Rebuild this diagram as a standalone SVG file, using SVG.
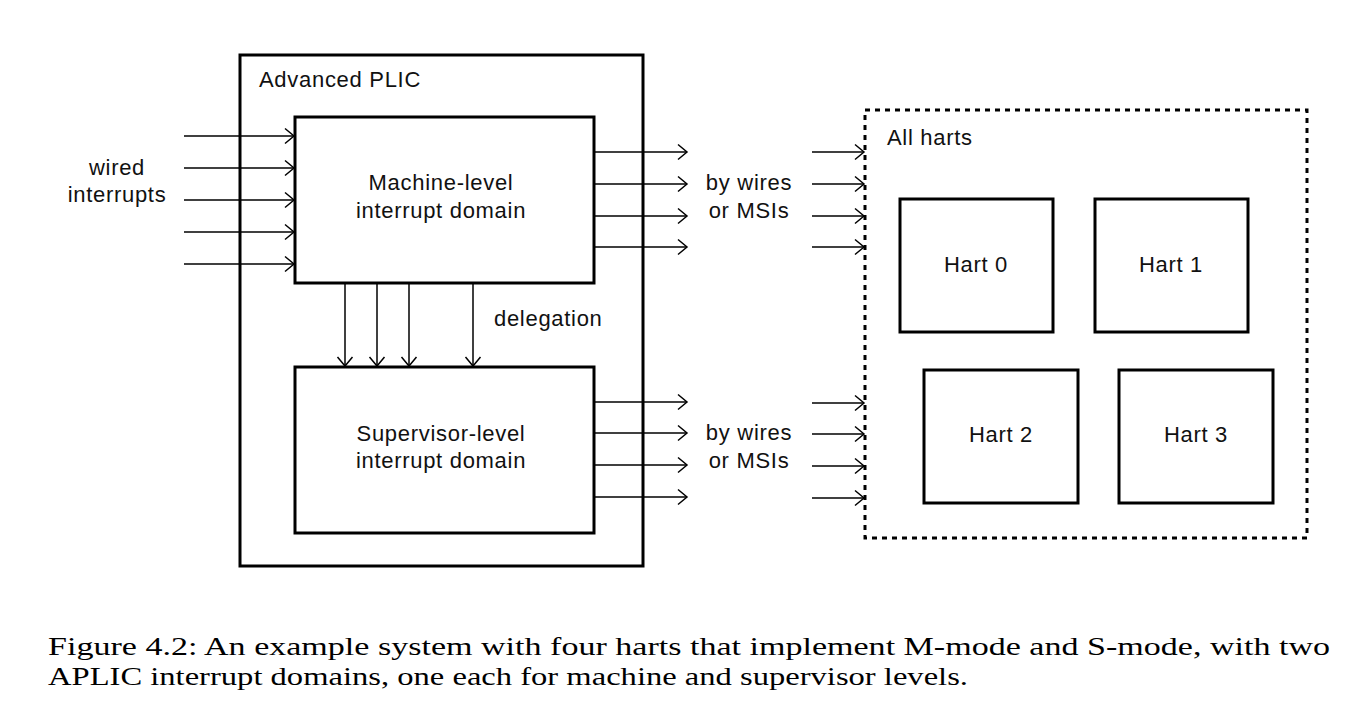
<svg xmlns="http://www.w3.org/2000/svg" width="1350" height="713" viewBox="0 0 1350 713">
<style>
.box{fill:none;stroke:#000;stroke-width:3}
.dash{fill:none;stroke:#000;stroke-width:3;stroke-dasharray:5 5}
.w{stroke:#000;stroke-width:1.5;fill:none;marker-end:url(#ah)}
.t{font-family:"Liberation Sans",Arial,sans-serif;font-size:22px;letter-spacing:0.7px;fill:#111}
.c{text-anchor:middle}
.cap{font-family:"Liberation Serif","Times New Roman",serif;font-size:25px;fill:#000}
</style>
<defs>
<marker id="ah" markerUnits="userSpaceOnUse" markerWidth="20" markerHeight="20" viewBox="-12 -10 14 20" refX="0" refY="0" orient="auto">
<path d="M-9,-7.5 L0,0 L-9,7.5" fill="none" stroke="#000" stroke-width="1.5"/>
</marker>
</defs>
<rect width="1350" height="713" fill="#fff"/>
<g id="aplic">
<rect class="box" x="240" y="55" width="403" height="511"/>
<text class="t" x="259" y="87">Advanced PLIC</text>
</g>
<g id="machine">
<rect class="box" x="295" y="117" width="299" height="166"/>
<text class="t c" x="441" y="190">Machine-level</text>
<text class="t c" x="441" y="218">interrupt domain</text>
</g>
<g id="supervisor">
<rect class="box" x="295" y="367" width="299" height="166"/>
<text class="t c" x="441" y="441">Supervisor-level</text>
<text class="t c" x="441" y="468">interrupt domain</text>
</g>
<g id="allharts">
<rect class="dash" x="865" y="110" width="442" height="428"/>
<text class="t" x="887" y="145">All harts</text>
</g>
<g id="hart0">
<rect class="box" x="900" y="199" width="153" height="133"/>
<text class="t c" x="976" y="272">Hart 0</text>
</g>
<g id="hart1">
<rect class="box" x="1095" y="199" width="153" height="133"/>
<text class="t c" x="1171" y="272">Hart 1</text>
</g>
<g id="hart2">
<rect class="box" x="924" y="370" width="154" height="133"/>
<text class="t c" x="1001" y="442">Hart 2</text>
</g>
<g id="hart3">
<rect class="box" x="1119" y="370" width="154" height="133"/>
<text class="t c" x="1196" y="442">Hart 3</text>
</g>
<g id="labels">
<text class="t c" x="117" y="175">wired</text>
<text class="t c" x="117" y="202">interrupts</text>
<text class="t c" x="749" y="190">by wires</text>
<text class="t c" x="749" y="218">or MSIs</text>
<text class="t c" x="749" y="440">by wires</text>
<text class="t c" x="749" y="468">or MSIs</text>
<text class="t" x="494" y="326">delegation</text>
</g>
<g id="connectors">
<line class="w" x1="184" y1="136" x2="294" y2="136"/>
<line class="w" x1="184" y1="168" x2="294" y2="168"/>
<line class="w" x1="184" y1="200" x2="294" y2="200"/>
<line class="w" x1="184" y1="232" x2="294" y2="232"/>
<line class="w" x1="184" y1="264" x2="294" y2="264"/>
<line class="w" x1="594" y1="152" x2="687" y2="152"/>
<line class="w" x1="594" y1="184" x2="687" y2="184"/>
<line class="w" x1="594" y1="216" x2="687" y2="216"/>
<line class="w" x1="594" y1="247" x2="687" y2="247"/>
<line class="w" x1="812" y1="152" x2="864" y2="152"/>
<line class="w" x1="812" y1="184" x2="864" y2="184"/>
<line class="w" x1="812" y1="216" x2="864" y2="216"/>
<line class="w" x1="812" y1="247" x2="864" y2="247"/>
<line class="w" x1="345" y1="283" x2="345" y2="366"/>
<line class="w" x1="377" y1="283" x2="377" y2="366"/>
<line class="w" x1="409" y1="283" x2="409" y2="366"/>
<line class="w" x1="473" y1="283" x2="473" y2="366"/>
<line class="w" x1="594" y1="402" x2="687" y2="402"/>
<line class="w" x1="594" y1="433" x2="687" y2="433"/>
<line class="w" x1="594" y1="465" x2="687" y2="465"/>
<line class="w" x1="594" y1="497" x2="687" y2="497"/>
<line class="w" x1="812" y1="403" x2="864" y2="403"/>
<line class="w" x1="812" y1="434" x2="864" y2="434"/>
<line class="w" x1="812" y1="466" x2="864" y2="466"/>
<line class="w" x1="812" y1="498" x2="864" y2="498"/>
</g>
<g id="caption">
<text class="cap" x="48" y="655" textLength="1282" lengthAdjust="spacingAndGlyphs">Figure 4.2:  An example system with four harts that implement M-mode and S-mode, with two</text>
<text class="cap" x="48" y="685" textLength="920" lengthAdjust="spacingAndGlyphs">APLIC interrupt domains, one each for machine and supervisor levels.</text>
</g>
</svg>
